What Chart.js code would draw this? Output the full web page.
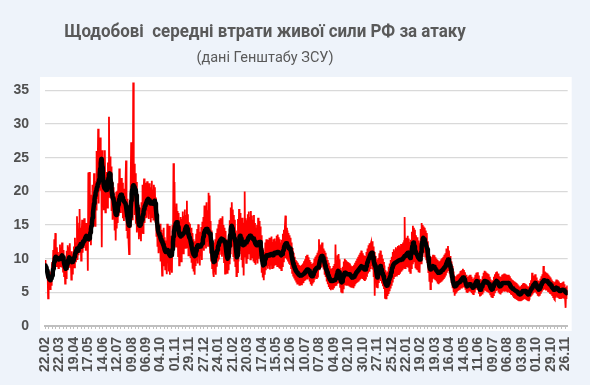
<!DOCTYPE html>
<html>
<head>
<meta charset="utf-8">
<script src="https://cdn.jsdelivr.net/npm/chart.js@4.4.1/dist/chart.umd.min.js"></script>
<style>
  html, body { margin: 0; padding: 0; background: #eef3fa; }
  #wrap { position: relative; width: 590px; height: 385px; }
  #chart { position: absolute; left: 0; top: 0; }
  .title { position: absolute; left: 0; width: 530px; text-align: center; color: #595959; font-family: Roboto, 'Liberation Sans', Arial, sans-serif; }
  #t1 { top: 20px; font-size: 18px; font-weight: bold; transform: scaleX(0.94); transform-origin: 265px 0; }
  #t2 { top: 49px; font-size: 14.5px; }
</style>
</head>
<body>
<div id="wrap">
  <canvas id="chart" width="590" height="385"></canvas>
  <div class="title" id="t1">Щодобові&nbsp; середні втрати живої сили РФ за атаку</div>
  <div class="title" id="t2">(дані Генштабу ЗСУ)</div>
</div>
<script>
// x-axis labels, one every 28 days (ticks every 7 days)
const tickLabels = ['22.02','22.03','19.04','17.05','14.06','12.07','09.08','06.09','04.10','01.11','29.11','27.12',
  '24.01','21.02','20.03','17.04','15.05','12.06','10.07','07.08','04.09','02.10','30.10','27.11','25.12',
  '22.01','19.02','19.03','16.04','14.05','11.06','09.07','06.08','03.09','01.10','29.10','26.11'];

const yTicks = [0, 5, 10, 15, 20, 25, 30, 35];

// daily values (red)
const dailyLosses = [
  9.8,9.3,8.8,9.1,7.2,8.6,4.1,7.0,6.2,8.1,5.5,7.9,6.1,8.4,9.5,7.2,11.3,8.0,12.9,9.1,13.8,10.5,8.9,11.7,9.2,11.0,8.6,10.4,
  8.9,12.1,9.3,11.6,8.7,12.4,10.2,8.1,11.3,7.4,10.0,6.3,9.8,7.1,11.2,8.4,12.0,9.1,11.7,8.8,12.3,9.0,10.4,6.9,11.1,7.8,10.6,9.2,
  11.8,8.7,13.1,9.6,12.4,10.2,16.3,9.8,13.0,10.5,15.2,17.4,11.0,14.6,9.7,13.5,15.8,10.9,14.1,11.6,16.0,12.3,14.9,11.2,15.3,13.0,14.4,8.2,
  22.8,12.5,22.9,14.1,17.6,12.0,19.5,13.8,21.0,16.2,15.0,22.7,18.1,14.9,21.5,17.3,26.0,19.0,22.4,29.3,18.2,26.5,20.1,28.0,23.5,25.3,11.7,26.1,
  18.4,23.6,17.2,22.1,26.1,16.9,21.8,18.5,22.9,17.6,24.3,19.2,31.1,20.4,25.2,19.0,23.7,17.1,21.4,15.8,20.6,16.0,19.3,14.2,18.7,12.7,19.9,14.5,
  20.1,15.3,21.2,16.4,23.4,17.0,21.7,16.8,22.0,17.5,21.3,16.0,20.4,15.6,19.8,16.2,21.0,24.6,14.1,18.9,13.0,17.2,12.4,10.7,17.5,14.8,20.9,27.3,
  17.9,23.5,15.7,36.2,18.8,24.1,16.5,22.7,15.2,21.4,13.9,19.6,14.2,18.0,12.9,16.8,13.3,17.6,12.6,18.4,14.0,21.0,13.8,19.5,21.9,15.3,20.8,16.0,
  21.3,16.1,21.5,17.2,20.9,15.9,21.2,16.6,19.8,15.4,20.5,21.6,16.2,20.3,15.8,21.0,16.7,20.6,15.5,19.1,13.4,17.0,11.9,15.6,10.8,14.7,11.3,15.2,
  9.6,14.3,10.4,7.5,13.8,10.1,14.6,9.0,13.2,8.4,12.7,9.3,7.7,15.2,9.8,13.5,8.1,14.9,7.6,12.8,8.3,13.4,7.9,15.0,11.2,24.2,13.6,21.4,
  12.1,17.6,11.8,18.2,13.0,17.1,10.4,16.8,9.0,15.7,10.9,16.2,9.6,15.9,11.3,17.0,10.8,16.4,12.2,17.3,11.6,16.5,12.9,18.6,11.7,16.6,10.5,15.4,
  10.6,15.2,10.1,14.6,9.4,13.8,8.5,12.9,8.1,12.6,7.6,12.2,8.9,13.7,9.7,14.4,9.3,15.1,10.2,14.0,9.0,13.9,10.4,14.7,9.8,15.5,11.4,16.2,
  11.2,17.9,12.0,16.8,11.5,18.4,12.6,17.2,11.9,19.8,12.3,19.4,10.9,15.6,9.7,14.2,8.6,12.1,7.9,7.3,12.4,8.0,12.9,7.6,13.8,8.8,14.5,9.6,
  15.1,9.9,15.8,10.6,16.0,11.2,15.4,10.3,16.3,10.8,15.0,9.5,14.6,7.8,14.1,8.6,12.9,7.9,11.6,8.4,13.5,9.3,15.7,10.8,17.6,11.9,18.4,12.2,
  17.3,10.4,16.5,9.7,15.8,8.9,14.2,7.4,12.8,8.0,15.9,9.6,17.4,10.7,16.8,11.2,15.6,9.8,16.1,8.7,14.9,7.5,15.2,20.0,10.3,16.0,9.4,15.7,
  10.1,16.6,10.8,17.0,11.3,16.2,9.9,17.1,10.6,16.4,10.2,15.8,9.7,16.5,9.5,15.3,9.1,14.6,9.8,15.0,9.3,16.1,10.0,15.6,10.4,14.8,9.6,13.5,
  7.9,11.6,7.2,10.5,6.8,11.0,7.6,12.4,8.3,12.9,8.8,12.3,8.5,12.8,8.9,13.1,8.4,12.7,9.0,13.3,8.6,12.5,8.7,12.9,9.1,13.0,9.3,12.6,
  9.2,13.4,8.9,13.6,9.4,13.2,8.7,12.9,8.6,12.4,8.3,12.8,8.9,13.7,9.6,14.3,10.2,14.8,16.4,10.1,14.6,9.9,14.2,9.7,13.8,9.4,13.5,9.2,
  13.1,8.6,12.4,7.9,11.6,7.5,10.9,7.2,10.3,6.9,9.8,6.6,9.6,6.3,9.4,6.4,9.1,6.1,9.0,6.3,8.9,6.2,9.1,6.5,9.3,6.4,9.6,6.7,
  9.9,6.8,10.4,7.0,10.6,6.9,10.2,7.3,9.8,6.6,9.5,6.2,9.2,6.0,8.9,6.3,9.4,6.5,10.0,6.9,10.3,7.1,10.5,7.0,10.9,7.2,11.1,12.9,
  8.3,11.8,9.0,12.1,8.7,12.4,8.9,11.5,8.4,11.2,7.6,10.9,7.3,10.3,6.6,9.8,6.2,9.4,5.8,8.9,5.5,8.5,5.3,8.3,5.5,8.6,5.4,8.9,
  5.6,9.2,5.9,12.1,6.1,9.8,6.4,10.5,6.8,10.7,6.5,9.9,5.8,8.6,5.1,8.2,5.0,8.8,5.6,9.6,6.2,10.0,6.4,9.8,6.1,9.6,6.3,9.5,
  6.1,9.4,6.0,9.3,5.9,9.0,5.8,8.8,5.7,8.9,5.6,9.1,5.9,9.4,6.2,9.7,6.4,10.0,6.5,10.3,6.6,10.6,6.8,10.9,7.0,11.2,7.1,10.8,
  7.0,10.5,6.8,10.2,6.7,10.4,6.9,11.0,7.3,11.5,7.8,12.0,8.2,12.3,8.6,12.1,12.4,8.9,12.6,8.4,11.8,7.3,11.0,4.5,10.4,6.4,9.9,5.7,
  9.4,5.6,10.1,6.4,10.8,6.9,11.2,6.7,10.6,6.3,10.0,5.9,9.5,5.5,9.0,4.2,8.3,4.1,7.9,4.6,8.1,4.9,8.8,5.3,9.3,5.7,9.8,6.1,
  10.3,6.6,11.0,7.1,11.4,7.4,11.2,7.6,11.7,7.5,11.5,7.8,11.9,7.7,12.0,7.9,11.8,8.0,12.2,8.1,12.0,8.3,12.4,8.5,12.6,16.2,8.6,12.9,
  8.9,13.1,9.0,13.4,8.8,13.0,8.2,12.5,7.9,12.8,8.6,14.0,9.3,14.9,10.2,14.6,9.6,14.3,8.7,13.5,8.4,13.2,8.3,12.7,8.0,12.3,7.9,12.1,
  14.4,9.3,15.3,10.4,15.0,11.2,14.8,11.0,14.6,10.3,14.2,9.9,13.8,9.5,12.6,8.0,11.3,6.7,10.4,5.5,10.0,6.6,10.3,7.0,10.6,7.1,10.5,6.9,
  10.2,6.8,10.0,6.6,9.8,6.3,9.6,6.2,9.5,6.4,9.7,6.5,9.9,6.6,10.1,6.8,10.3,7.0,10.6,7.2,10.8,7.5,11.5,7.9,11.4,11.9,8.3,11.2,
  7.8,10.4,7.2,9.6,6.4,8.9,5.6,8.1,5.0,7.4,4.5,7.2,4.8,7.4,5.0,7.6,5.2,7.7,5.3,7.8,5.4,8.0,8.2,5.7,8.3,5.9,8.5,6.0,
  8.3,5.8,8.0,5.4,7.6,5.0,7.2,4.9,7.3,5.1,7.5,5.2,7.6,5.1,7.3,4.9,7.0,4.7,6.9,4.6,7.2,5.0,7.6,5.4,7.9,5.6,8.0,5.3,
  7.5,4.8,7.0,4.4,6.7,4.5,6.9,4.8,7.4,5.1,7.9,5.4,8.2,5.5,8.1,5.3,7.9,5.2,7.8,5.1,7.7,5.0,7.3,4.7,6.9,4.4,6.6,4.3,
  6.8,4.6,7.3,5.0,7.7,5.3,8.0,5.4,8.1,5.3,7.8,5.0,7.4,4.8,7.1,4.7,7.3,4.9,7.6,5.1,7.7,5.2,7.8,5.1,7.7,5.2,7.6,5.1,
  7.5,5.0,7.6,5.1,7.4,4.9,7.1,4.7,6.9,4.6,6.8,4.4,6.7,4.3,6.6,4.2,6.5,4.1,6.4,4.0,6.2,3.9,6.0,3.8,5.8,3.8,5.9,3.9,
  6.1,4.0,6.3,4.1,6.4,4.2,6.3,4.1,6.2,4.0,6.0,3.9,5.8,3.8,5.9,3.9,6.4,4.3,6.8,4.5,7.9,4.7,7.3,4.9,7.5,5.1,7.7,5.0,
  7.2,4.8,6.8,4.5,6.6,4.4,6.7,4.5,7.0,4.8,7.4,5.1,7.7,5.3,8.9,5.4,8.1,5.5,8.0,5.4,7.9,5.4,7.8,5.2,7.6,5.1,7.4,4.9,
  7.2,4.8,6.9,4.6,6.7,4.3,6.5,4.0,3.9,6.6,4.2,6.9,4.4,6.8,4.2,6.6,4.1,6.4,4.0,6.3,4.0,6.4,4.1,6.5,4.3,6.6,4.2,6.2,
  4.1,2.7,5.8,4.0,6.0,4.6
];

// smoothed average (black)
const avgLosses = [
  9.0,8.9,8.7,8.5,8.2,7.8,7.4,7.2,7.0,6.9,6.8,6.9,7.1,7.3,7.5,8.0,8.5,9.1,9.6,10.0,10.2,10.3,10.1,10.0,10.1,10.0,9.9,10.0,
  10.0,10.1,10.0,10.2,10.4,10.5,10.5,10.2,9.8,9.3,9.0,8.7,8.5,8.6,8.9,9.2,9.5,9.8,10.0,10.2,10.2,10.0,9.8,9.6,9.5,9.5,9.6,9.8,
  10.0,10.3,10.6,10.9,11.1,11.3,11.5,11.4,11.2,11.4,11.7,11.9,12.0,12.2,12.0,11.8,12.1,12.4,12.6,12.5,12.7,12.9,13.1,13.3,13.4,13.4,13.2,13.0,
  13.0,12.9,13.0,13.4,13.9,14.4,14.9,15.4,16.1,16.8,17.5,18.2,18.8,19.4,19.8,20.1,20.4,20.7,21.0,21.2,21.3,21.8,22.5,23.4,24.2,24.8,24.5,23.6,
  22.5,21.5,20.8,20.5,20.4,20.3,20.2,20.2,20.3,20.8,21.4,22.0,22.5,22.7,22.6,22.0,21.2,20.3,19.6,19.1,18.9,18.7,18.2,17.6,17.0,16.6,16.5,16.7,
  17.0,17.5,18.0,18.5,18.9,19.2,19.4,19.5,19.5,19.4,19.1,18.8,18.6,18.5,18.4,18.4,18.2,17.8,17.2,16.6,16.0,15.5,15.1,14.9,15.3,16.2,17.4,18.6,
  19.6,20.3,20.7,20.9,20.8,20.6,20.4,20.2,20.0,19.4,18.5,17.5,16.5,15.7,15.1,14.9,15.0,15.1,15.3,15.5,15.8,16.2,16.6,17.0,17.4,17.7,17.9,18.1,
  18.3,18.5,18.7,18.8,18.9,18.9,18.7,18.4,18.2,18.3,18.4,18.4,18.3,18.2,18.3,18.5,18.6,18.5,18.2,17.4,16.5,15.6,14.8,14.2,13.9,13.7,13.5,13.3,
  13.0,12.8,12.6,12.5,12.3,12.1,11.9,11.6,11.3,11.1,11.0,11.0,11.0,11.2,11.3,11.1,10.8,10.6,10.5,10.4,10.4,10.5,10.7,11.4,12.4,13.3,14.0,14.4,
  14.8,15.1,15.3,15.4,15.4,15.1,14.7,14.2,13.8,13.5,13.4,13.3,13.4,13.5,13.6,13.7,13.7,13.7,13.9,14.2,14.5,14.7,14.8,14.7,14.4,14.0,13.6,13.3,
  13.1,13.0,12.7,12.3,11.9,11.5,11.1,10.8,10.6,10.5,10.4,10.5,10.8,11.2,11.6,11.9,12.0,12.0,12.0,11.9,11.8,11.8,11.9,12.0,12.0,12.3,12.8,13.3,
  13.7,14.0,14.2,14.3,14.4,14.4,14.4,14.3,14.1,13.9,13.8,13.7,13.7,13.3,12.6,11.8,11.0,10.3,9.8,9.5,9.6,9.9,10.3,10.6,10.8,11.0,11.3,11.7,
  12.0,12.3,12.5,12.7,12.8,12.9,13.0,13.0,12.9,12.8,12.7,12.6,12.5,12.5,12.0,11.3,10.6,10.2,10.0,10.3,11.0,11.8,12.7,13.6,14.3,14.8,14.9,14.5,
  14.0,13.6,13.3,13.0,12.7,12.5,11.6,10.8,10.2,10.5,11.2,12.0,12.7,13.2,13.4,13.3,13.0,12.6,12.3,12.1,12.0,12.0,12.1,12.3,12.5,12.5,12.4,12.5,
  12.7,12.9,13.1,13.2,13.3,13.4,13.4,13.3,13.2,13.1,13.0,13.0,13.0,12.8,12.6,12.4,12.2,12.1,12.0,12.0,12.1,12.3,12.4,12.5,12.5,12.5,12.0,11.2,
  10.4,9.8,9.3,9.0,9.0,9.2,9.6,10.0,10.3,10.5,10.5,10.4,10.4,10.5,10.6,10.6,10.5,10.6,10.7,10.7,10.7,10.6,10.5,10.6,10.8,10.9,10.9,10.8,
  10.8,10.9,11.0,11.0,11.0,11.0,10.9,10.8,10.7,10.6,10.5,10.5,10.7,11.0,11.3,11.6,11.9,12.1,12.2,12.3,12.3,12.2,12.0,11.8,11.6,11.5,11.5,11.5,
  11.3,10.9,10.4,10.0,9.6,9.3,9.0,8.8,8.6,8.4,8.2,8.1,8.0,7.9,7.8,7.7,7.6,7.6,7.5,7.5,7.5,7.5,7.5,7.6,7.6,7.7,7.8,7.9,
  8.0,8.1,8.2,8.3,8.4,8.4,8.4,8.4,8.2,8.0,7.8,7.6,7.5,7.4,7.4,7.5,7.7,7.9,8.1,8.3,8.4,8.5,8.6,8.6,8.7,8.7,8.7,9.0,
  9.4,9.8,10.1,10.3,10.4,10.4,10.3,10.1,9.9,9.6,9.3,9.0,8.7,8.4,8.2,8.0,7.7,7.5,7.3,7.1,6.9,6.8,6.7,6.7,6.7,6.7,6.8,6.8,
  6.8,6.8,6.9,6.9,7.1,7.4,7.7,8.0,8.2,8.2,8.0,7.6,7.2,6.8,6.6,6.5,6.6,6.9,7.3,7.6,7.8,7.9,7.9,7.8,7.7,7.7,7.7,7.7,
  7.7,7.7,7.7,7.6,7.5,7.4,7.3,7.2,7.2,7.2,7.2,7.3,7.4,7.6,7.7,7.9,8.0,8.1,8.2,8.3,8.4,8.5,8.6,8.7,8.8,8.9,8.9,8.8,
  8.7,8.6,8.5,8.4,8.4,8.4,8.6,8.9,9.2,9.5,9.7,9.9,10.1,10.3,10.5,10.7,10.8,10.9,10.9,10.6,10.2,9.7,9.3,9.0,8.9,8.6,8.1,7.6,
  7.2,7.4,7.8,8.2,8.6,8.8,8.9,8.7,8.4,8.1,7.8,7.6,7.4,7.1,6.8,6.5,6.3,6.1,6.0,6.0,6.1,6.4,6.7,7.0,7.2,7.4,7.7,8.0,
  8.4,8.7,8.9,9.1,9.2,9.3,9.3,9.4,9.4,9.5,9.5,9.6,9.6,9.7,9.7,9.8,9.8,9.8,9.9,9.9,9.9,10.0,10.1,10.2,10.3,10.4,10.4,10.5,
  10.6,10.7,10.8,10.9,10.9,10.7,10.4,10.2,10.1,10.3,10.8,11.4,11.9,12.3,12.4,12.2,11.8,11.4,11.0,10.8,10.7,10.6,10.4,10.2,10.1,10.0,9.9,9.9,
  10.3,11.0,11.8,12.5,12.9,13.1,13.1,12.9,12.6,12.3,12.1,11.9,11.9,11.4,10.8,10.1,9.4,8.8,8.5,8.4,8.5,8.6,8.7,8.8,8.9,8.9,8.8,8.6,
  8.5,8.4,8.3,8.2,8.1,8.0,7.9,7.9,7.9,8.0,8.0,8.1,8.2,8.2,8.3,8.4,8.5,8.6,8.7,8.8,8.9,9.1,9.3,9.5,9.7,9.9,9.9,9.6,
  9.3,9.0,8.7,8.4,7.9,7.4,6.9,6.5,6.2,6.0,5.9,5.9,6.0,6.1,6.2,6.3,6.4,6.4,6.4,6.5,6.6,6.7,6.8,6.9,7.0,7.1,7.2,7.2,
  7.1,6.9,6.7,6.5,6.2,6.0,5.9,5.9,6.0,6.1,6.2,6.2,6.2,6.1,6.0,5.9,5.8,5.7,5.7,5.7,5.9,6.1,6.3,6.5,6.6,6.7,6.6,6.4,
  6.1,5.8,5.6,5.4,5.4,5.5,5.7,5.9,6.1,6.3,6.5,6.6,6.7,6.7,6.7,6.6,6.5,6.5,6.4,6.4,6.4,6.2,6.0,5.8,5.6,5.5,5.4,5.5,
  5.7,5.9,6.1,6.3,6.4,6.5,6.6,6.7,6.7,6.6,6.4,6.2,6.0,5.9,5.9,6.0,6.1,6.2,6.3,6.4,6.4,6.4,6.4,6.4,6.4,6.4,6.4,6.4,
  6.4,6.4,6.4,6.3,6.2,6.1,5.9,5.8,5.7,5.7,5.6,5.5,5.5,5.4,5.4,5.3,5.3,5.2,5.2,5.1,5.0,4.9,4.8,4.8,4.7,4.7,4.8,4.9,
  5.0,5.1,5.2,5.2,5.2,5.2,5.2,5.2,5.1,5.0,4.9,4.8,4.7,4.7,4.8,5.0,5.2,5.3,5.5,5.6,5.7,5.8,6.0,6.1,6.2,6.3,6.4,6.3,
  6.1,5.9,5.7,5.6,5.5,5.4,5.5,5.6,5.8,6.0,6.2,6.4,6.5,6.6,6.7,6.8,6.8,6.8,6.7,6.7,6.7,6.7,6.6,6.5,6.4,6.3,6.2,6.2,
  6.1,6.0,5.8,5.7,5.6,5.5,5.4,5.4,5.5,5.5,5.6,5.7,5.7,5.6,5.5,5.4,5.3,5.2,5.2,5.2,5.2,5.3,5.3,5.4,5.4,5.4,5.3,5.2,
  5.1,5.0,5.0,4.9,4.9,4.9
];

const daysPerTick = 7;
const daysPerLabel = 28;
const lastDay = dailyLosses.length - 1;

const tickFont = { family: "'Liberation Sans', Arial, sans-serif", size: 14, weight: 'bold' };

// white plot panel on the light-blue background
const plotPanel = {
    id: 'plotPanel',
    beforeDraw(chart) {
        const ctx = chart.ctx;
        const a = chart.chartArea;
        ctx.save();
        ctx.fillStyle = '#ffffff';
        ctx.fillRect(a.left - 5, a.top, a.right - a.left + 9, a.bottom - a.top + 5);
        ctx.restore();
    }
};

const ctx = document.getElementById('chart').getContext('2d');
new Chart(ctx, {
    type: 'line',
    data: {
        datasets: [
            {
                label: 'avg',
                data: avgLosses.map((v, i) => ({ x: i, y: v })),
                borderColor: '#000000',
                borderWidth: 4.5,
                borderJoinStyle: 'round',
                pointRadius: 0,
                tension: 0
            },
            {
                label: 'daily',
                data: dailyLosses.map((v, i) => ({ x: i, y: v })),
                borderColor: '#ff0000',
                borderWidth: 1.8,
                pointRadius: 0,
                tension: 0
            }
        ]
    },
    options: {
        responsive: false,
        animation: false,
        layout: { padding: { left: 0, right: 22, top: 77, bottom: 0 } },
        plugins: {
            legend: { display: false },
            tooltip: { enabled: false }
        },
        scales: {
            x: {
                type: 'linear',
                min: 0,
                max: lastDay,
                afterBuildTicks: (scale) => {
                    const t = [];
                    for (let d = 0; d <= lastDay; d += daysPerTick) t.push({ value: d });
                    scale.ticks = t;
                },
                afterFit: (scale) => { scale.height = 59; },
                border: { display: true, color: '#bfbfbf', width: 2 },
                grid: { drawOnChartArea: false, drawTicks: true, tickLength: 3, color: '#bfbfbf' },
                ticks: {
                    autoSkip: false,
                    minRotation: 90,
                    maxRotation: 90,
                    padding: 8,
                    color: '#505050',
                    font: tickFont,
                    callback: (v) => (v % daysPerLabel === 0 ? tickLabels[v / daysPerLabel] : '')
                }
            },
            y: {
                min: 0,
                max: 37,
                afterBuildTicks: (scale) => {
                    scale.ticks = yTicks.map(v => ({ value: v }));
                },
                afterFit: (scale) => { scale.width = 45; },
                border: { display: false },
                grid: { color: '#d9d9d9', lineWidth: 1.3, drawTicks: false },
                ticks: { padding: 16, color: '#505050', font: tickFont }
            }
        }
    },
    plugins: [plotPanel]
});
</script>
</body>
</html>
